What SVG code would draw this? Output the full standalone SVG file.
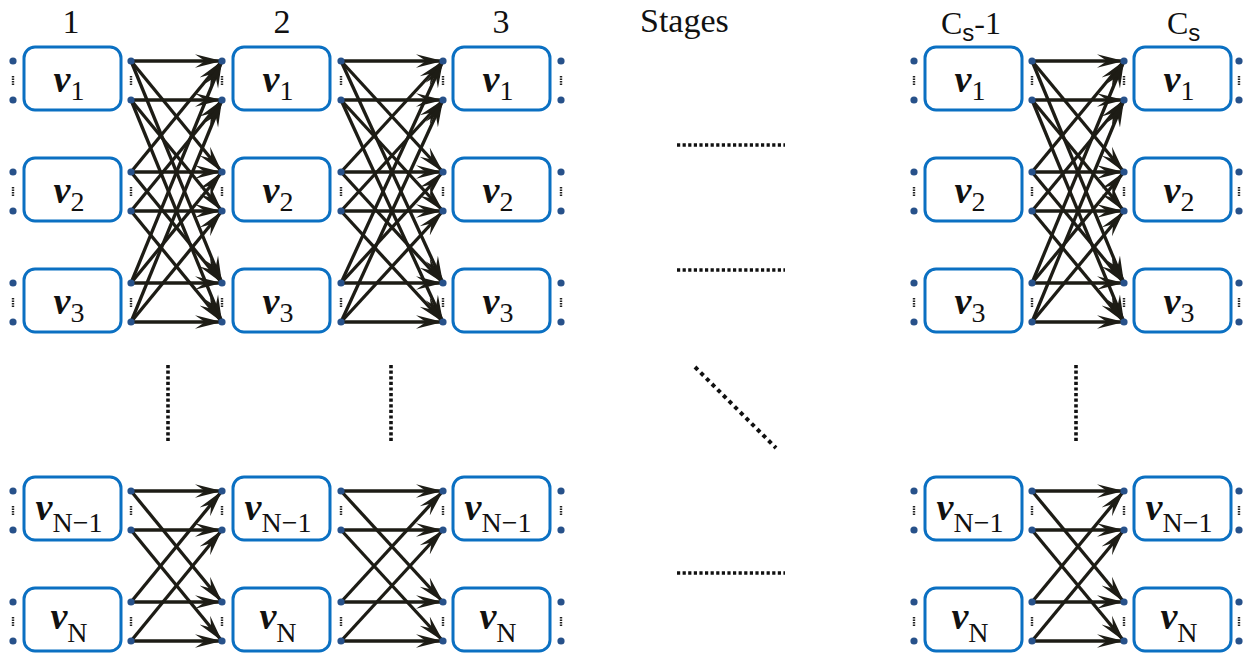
<svg xmlns="http://www.w3.org/2000/svg" width="1251" height="655" viewBox="0 0 1251 655">
  <defs>
    <marker id="ah" markerUnits="userSpaceOnUse" markerWidth="30" markerHeight="16" viewBox="0 0 30 16" refX="27" refY="8" orient="auto">
      <path d="M0,1.2 L27,8 L0,14.8 L10,8 Z" fill="#1d1c15"/>
    </marker>
    <style>
      .box { fill: #ffffff; stroke: #0b70c2; stroke-width: 3; }
      .dot { fill: #27518a; }
      .tick { stroke: #222222; stroke-width: 2.4; stroke-dasharray: 1.6 0.9; }
      .ln { stroke: #1d1c15; stroke-width: 3.3; fill: none; marker-end: url(#ah); }
      .sep { stroke: #111111; stroke-width: 3.6; stroke-dasharray: 3.2 2.4; fill: none; }
      .sepd { stroke: #111111; stroke-width: 4; stroke-dasharray: 4 4; fill: none; }
      .nu { font-family: "Liberation Serif", serif; font-weight: bold; font-style: italic; font-size: 38px; fill: #111111; }
      .sub { font-family: "Liberation Serif", serif; font-weight: normal; font-style: normal; font-size: 28px; }
      .hdr { font-family: "Liberation Serif", serif; font-size: 34px; fill: #111111; }
      .stg { font-family: "Liberation Serif", serif; font-size: 34px; fill: #111111; }
      .cs { font-family: "Liberation Serif", serif; font-size: 32px; fill: #111111; }
      .csub { font-family: "Liberation Sans", sans-serif; font-size: 24px; }
    </style>
  </defs>

  <!-- stage headings -->
  <g id="headings">
    <text class="hdr" x="71" y="33" text-anchor="middle">1</text>
    <text class="hdr" x="282" y="33" text-anchor="middle">2</text>
    <text class="hdr" x="501" y="33" text-anchor="middle">3</text>
    <text class="stg" x="640" y="32">Stages</text>
    <text class="cs" x="941" y="34">C<tspan class="csub" dy="7">s</tspan><tspan dy="-7">-1</tspan></text>
    <text class="cs" x="1167" y="34">C<tspan class="csub" dy="7">s</tspan></text>
  </g>

  <!-- connectors between consecutive stages -->
  <g id="connectors">
    <!-- stage 1 -> stage 2 -->
    <line class="ln" x1="131" y1="61" x2="222" y2="61"/>
    <line class="ln" x1="131" y1="61" x2="222" y2="172"/>
    <line class="ln" x1="131" y1="61" x2="222" y2="283"/>
    <line class="ln" x1="131" y1="172" x2="222" y2="61"/>
    <line class="ln" x1="131" y1="172" x2="222" y2="172"/>
    <line class="ln" x1="131" y1="172" x2="222" y2="283"/>
    <line class="ln" x1="131" y1="283" x2="222" y2="61"/>
    <line class="ln" x1="131" y1="283" x2="222" y2="172"/>
    <line class="ln" x1="131" y1="283" x2="222" y2="283"/>
    <line class="ln" x1="131" y1="100" x2="222" y2="100"/>
    <line class="ln" x1="131" y1="100" x2="222" y2="211"/>
    <line class="ln" x1="131" y1="100" x2="222" y2="322"/>
    <line class="ln" x1="131" y1="211" x2="222" y2="100"/>
    <line class="ln" x1="131" y1="211" x2="222" y2="211"/>
    <line class="ln" x1="131" y1="211" x2="222" y2="322"/>
    <line class="ln" x1="131" y1="322" x2="222" y2="100"/>
    <line class="ln" x1="131" y1="322" x2="222" y2="211"/>
    <line class="ln" x1="131" y1="322" x2="222" y2="322"/>
    <line class="ln" x1="131" y1="491" x2="222" y2="491"/>
    <line class="ln" x1="131" y1="491" x2="222" y2="602"/>
    <line class="ln" x1="131" y1="602" x2="222" y2="491"/>
    <line class="ln" x1="131" y1="602" x2="222" y2="602"/>
    <line class="ln" x1="131" y1="530" x2="222" y2="530"/>
    <line class="ln" x1="131" y1="530" x2="222" y2="641"/>
    <line class="ln" x1="131" y1="641" x2="222" y2="530"/>
    <line class="ln" x1="131" y1="641" x2="222" y2="641"/>

    <!-- stage 2 -> stage 3 -->
    <line class="ln" x1="341" y1="61" x2="443" y2="61"/>
    <line class="ln" x1="341" y1="61" x2="443" y2="172"/>
    <line class="ln" x1="341" y1="61" x2="443" y2="283"/>
    <line class="ln" x1="341" y1="172" x2="443" y2="61"/>
    <line class="ln" x1="341" y1="172" x2="443" y2="172"/>
    <line class="ln" x1="341" y1="172" x2="443" y2="283"/>
    <line class="ln" x1="341" y1="283" x2="443" y2="61"/>
    <line class="ln" x1="341" y1="283" x2="443" y2="172"/>
    <line class="ln" x1="341" y1="283" x2="443" y2="283"/>
    <line class="ln" x1="341" y1="100" x2="443" y2="100"/>
    <line class="ln" x1="341" y1="100" x2="443" y2="211"/>
    <line class="ln" x1="341" y1="100" x2="443" y2="322"/>
    <line class="ln" x1="341" y1="211" x2="443" y2="100"/>
    <line class="ln" x1="341" y1="211" x2="443" y2="211"/>
    <line class="ln" x1="341" y1="211" x2="443" y2="322"/>
    <line class="ln" x1="341" y1="322" x2="443" y2="100"/>
    <line class="ln" x1="341" y1="322" x2="443" y2="211"/>
    <line class="ln" x1="341" y1="322" x2="443" y2="322"/>
    <line class="ln" x1="341" y1="491" x2="443" y2="491"/>
    <line class="ln" x1="341" y1="491" x2="443" y2="602"/>
    <line class="ln" x1="341" y1="602" x2="443" y2="491"/>
    <line class="ln" x1="341" y1="602" x2="443" y2="602"/>
    <line class="ln" x1="341" y1="530" x2="443" y2="530"/>
    <line class="ln" x1="341" y1="530" x2="443" y2="641"/>
    <line class="ln" x1="341" y1="641" x2="443" y2="530"/>
    <line class="ln" x1="341" y1="641" x2="443" y2="641"/>

    <!-- stage Cs-1 -> stage Cs -->
    <line class="ln" x1="1032" y1="61" x2="1124" y2="61"/>
    <line class="ln" x1="1032" y1="61" x2="1124" y2="172"/>
    <line class="ln" x1="1032" y1="61" x2="1124" y2="283"/>
    <line class="ln" x1="1032" y1="172" x2="1124" y2="61"/>
    <line class="ln" x1="1032" y1="172" x2="1124" y2="172"/>
    <line class="ln" x1="1032" y1="172" x2="1124" y2="283"/>
    <line class="ln" x1="1032" y1="283" x2="1124" y2="61"/>
    <line class="ln" x1="1032" y1="283" x2="1124" y2="172"/>
    <line class="ln" x1="1032" y1="283" x2="1124" y2="283"/>
    <line class="ln" x1="1032" y1="100" x2="1124" y2="100"/>
    <line class="ln" x1="1032" y1="100" x2="1124" y2="211"/>
    <line class="ln" x1="1032" y1="100" x2="1124" y2="322"/>
    <line class="ln" x1="1032" y1="211" x2="1124" y2="100"/>
    <line class="ln" x1="1032" y1="211" x2="1124" y2="211"/>
    <line class="ln" x1="1032" y1="211" x2="1124" y2="322"/>
    <line class="ln" x1="1032" y1="322" x2="1124" y2="100"/>
    <line class="ln" x1="1032" y1="322" x2="1124" y2="211"/>
    <line class="ln" x1="1032" y1="322" x2="1124" y2="322"/>
    <line class="ln" x1="1032" y1="491" x2="1124" y2="491"/>
    <line class="ln" x1="1032" y1="491" x2="1124" y2="602"/>
    <line class="ln" x1="1032" y1="602" x2="1124" y2="491"/>
    <line class="ln" x1="1032" y1="602" x2="1124" y2="602"/>
    <line class="ln" x1="1032" y1="530" x2="1124" y2="530"/>
    <line class="ln" x1="1032" y1="530" x2="1124" y2="641"/>
    <line class="ln" x1="1032" y1="641" x2="1124" y2="530"/>
    <line class="ln" x1="1032" y1="641" x2="1124" y2="641"/>
  </g>

  <!-- ellipsis marks for omitted stages / nodes -->
  <g id="ellipses">
    <line class="sep" x1="677" y1="145" x2="785" y2="145"/>
    <line class="sep" x1="677" y1="270" x2="785" y2="270"/>
    <line class="sep" x1="677" y1="573" x2="785" y2="573"/>
    <line class="sep" x1="168" y1="365" x2="168" y2="441"/>
    <line class="sep" x1="391" y1="365" x2="391" y2="441"/>
    <line class="sep" x1="1076" y1="365" x2="1076" y2="441"/>
    <line class="sepd" x1="695" y1="367" x2="776" y2="448"/>
  </g>

  <!-- ===== stage 1 ===== -->
  <g id="s1-v1">
    <rect class="box" x="24" y="47" width="97" height="63" rx="11"/>
    <text class="nu" x="69" y="92" text-anchor="middle">ν<tspan class="sub" dy="8">1</tspan></text>
    <circle class="dot" cx="13" cy="61" r="3.6"/><circle class="dot" cx="13" cy="100" r="3.6"/>
    <circle class="dot" cx="131" cy="61" r="3.6"/><circle class="dot" cx="131" cy="100" r="3.6"/>
    <line class="tick" x1="13" y1="76" x2="13" y2="85"/><line class="tick" x1="131" y1="76" x2="131" y2="85"/>
  </g>
  <g id="s1-v2">
    <rect class="box" x="24" y="158" width="97" height="63" rx="11"/>
    <text class="nu" x="69" y="203" text-anchor="middle">ν<tspan class="sub" dy="8">2</tspan></text>
    <circle class="dot" cx="13" cy="172" r="3.6"/><circle class="dot" cx="13" cy="211" r="3.6"/>
    <circle class="dot" cx="131" cy="172" r="3.6"/><circle class="dot" cx="131" cy="211" r="3.6"/>
    <line class="tick" x1="13" y1="187" x2="13" y2="196"/><line class="tick" x1="131" y1="187" x2="131" y2="196"/>
  </g>
  <g id="s1-v3">
    <rect class="box" x="24" y="269" width="97" height="63" rx="11"/>
    <text class="nu" x="69" y="314" text-anchor="middle">ν<tspan class="sub" dy="8">3</tspan></text>
    <circle class="dot" cx="13" cy="283" r="3.6"/><circle class="dot" cx="13" cy="322" r="3.6"/>
    <circle class="dot" cx="131" cy="283" r="3.6"/><circle class="dot" cx="131" cy="322" r="3.6"/>
    <line class="tick" x1="13" y1="298" x2="13" y2="307"/><line class="tick" x1="131" y1="298" x2="131" y2="307"/>
  </g>
  <g id="s1-vN-1">
    <rect class="box" x="24" y="477" width="97" height="63" rx="11"/>
    <text class="nu" x="69" y="520" text-anchor="middle">ν<tspan class="sub" dy="12">N−1</tspan></text>
    <circle class="dot" cx="13" cy="491" r="3.6"/><circle class="dot" cx="13" cy="530" r="3.6"/>
    <circle class="dot" cx="131" cy="491" r="3.6"/><circle class="dot" cx="131" cy="530" r="3.6"/>
    <line class="tick" x1="13" y1="506" x2="13" y2="515"/><line class="tick" x1="131" y1="506" x2="131" y2="515"/>
  </g>
  <g id="s1-vN">
    <rect class="box" x="24" y="588" width="97" height="63" rx="11"/>
    <text class="nu" x="69" y="629" text-anchor="middle">ν<tspan class="sub" dy="13">N</tspan></text>
    <circle class="dot" cx="13" cy="602" r="3.6"/><circle class="dot" cx="13" cy="641" r="3.6"/>
    <circle class="dot" cx="131" cy="602" r="3.6"/><circle class="dot" cx="131" cy="641" r="3.6"/>
    <line class="tick" x1="13" y1="617" x2="13" y2="626"/><line class="tick" x1="131" y1="617" x2="131" y2="626"/>
  </g>

  <!-- ===== stage 2 ===== -->
  <g id="s2-v1">
    <rect class="box" x="233" y="47" width="97" height="63" rx="11"/>
    <text class="nu" x="278" y="92" text-anchor="middle">ν<tspan class="sub" dy="8">1</tspan></text>
    <circle class="dot" cx="222" cy="61" r="3.6"/><circle class="dot" cx="222" cy="100" r="3.6"/>
    <circle class="dot" cx="341" cy="61" r="3.6"/><circle class="dot" cx="341" cy="100" r="3.6"/>
    <line class="tick" x1="222" y1="76" x2="222" y2="85"/><line class="tick" x1="341" y1="76" x2="341" y2="85"/>
  </g>
  <g id="s2-v2">
    <rect class="box" x="233" y="158" width="97" height="63" rx="11"/>
    <text class="nu" x="278" y="203" text-anchor="middle">ν<tspan class="sub" dy="8">2</tspan></text>
    <circle class="dot" cx="222" cy="172" r="3.6"/><circle class="dot" cx="222" cy="211" r="3.6"/>
    <circle class="dot" cx="341" cy="172" r="3.6"/><circle class="dot" cx="341" cy="211" r="3.6"/>
    <line class="tick" x1="222" y1="187" x2="222" y2="196"/><line class="tick" x1="341" y1="187" x2="341" y2="196"/>
  </g>
  <g id="s2-v3">
    <rect class="box" x="233" y="269" width="97" height="63" rx="11"/>
    <text class="nu" x="278" y="314" text-anchor="middle">ν<tspan class="sub" dy="8">3</tspan></text>
    <circle class="dot" cx="222" cy="283" r="3.6"/><circle class="dot" cx="222" cy="322" r="3.6"/>
    <circle class="dot" cx="341" cy="283" r="3.6"/><circle class="dot" cx="341" cy="322" r="3.6"/>
    <line class="tick" x1="222" y1="298" x2="222" y2="307"/><line class="tick" x1="341" y1="298" x2="341" y2="307"/>
  </g>
  <g id="s2-vN-1">
    <rect class="box" x="233" y="477" width="97" height="63" rx="11"/>
    <text class="nu" x="278" y="520" text-anchor="middle">ν<tspan class="sub" dy="12">N−1</tspan></text>
    <circle class="dot" cx="222" cy="491" r="3.6"/><circle class="dot" cx="222" cy="530" r="3.6"/>
    <circle class="dot" cx="341" cy="491" r="3.6"/><circle class="dot" cx="341" cy="530" r="3.6"/>
    <line class="tick" x1="222" y1="506" x2="222" y2="515"/><line class="tick" x1="341" y1="506" x2="341" y2="515"/>
  </g>
  <g id="s2-vN">
    <rect class="box" x="233" y="588" width="97" height="63" rx="11"/>
    <text class="nu" x="278" y="629" text-anchor="middle">ν<tspan class="sub" dy="13">N</tspan></text>
    <circle class="dot" cx="222" cy="602" r="3.6"/><circle class="dot" cx="222" cy="641" r="3.6"/>
    <circle class="dot" cx="341" cy="602" r="3.6"/><circle class="dot" cx="341" cy="641" r="3.6"/>
    <line class="tick" x1="222" y1="617" x2="222" y2="626"/><line class="tick" x1="341" y1="617" x2="341" y2="626"/>
  </g>

  <!-- ===== stage 3 ===== -->
  <g id="s3-v1">
    <rect class="box" x="453" y="47" width="97" height="63" rx="11"/>
    <text class="nu" x="498" y="92" text-anchor="middle">ν<tspan class="sub" dy="8">1</tspan></text>
    <circle class="dot" cx="443" cy="61" r="3.6"/><circle class="dot" cx="443" cy="100" r="3.6"/>
    <circle class="dot" cx="561" cy="61" r="3.6"/><circle class="dot" cx="561" cy="100" r="3.6"/>
    <line class="tick" x1="443" y1="76" x2="443" y2="85"/><line class="tick" x1="561" y1="76" x2="561" y2="85"/>
  </g>
  <g id="s3-v2">
    <rect class="box" x="453" y="158" width="97" height="63" rx="11"/>
    <text class="nu" x="498" y="203" text-anchor="middle">ν<tspan class="sub" dy="8">2</tspan></text>
    <circle class="dot" cx="443" cy="172" r="3.6"/><circle class="dot" cx="443" cy="211" r="3.6"/>
    <circle class="dot" cx="561" cy="172" r="3.6"/><circle class="dot" cx="561" cy="211" r="3.6"/>
    <line class="tick" x1="443" y1="187" x2="443" y2="196"/><line class="tick" x1="561" y1="187" x2="561" y2="196"/>
  </g>
  <g id="s3-v3">
    <rect class="box" x="453" y="269" width="97" height="63" rx="11"/>
    <text class="nu" x="498" y="314" text-anchor="middle">ν<tspan class="sub" dy="8">3</tspan></text>
    <circle class="dot" cx="443" cy="283" r="3.6"/><circle class="dot" cx="443" cy="322" r="3.6"/>
    <circle class="dot" cx="561" cy="283" r="3.6"/><circle class="dot" cx="561" cy="322" r="3.6"/>
    <line class="tick" x1="443" y1="298" x2="443" y2="307"/><line class="tick" x1="561" y1="298" x2="561" y2="307"/>
  </g>
  <g id="s3-vN-1">
    <rect class="box" x="453" y="477" width="97" height="63" rx="11"/>
    <text class="nu" x="498" y="520" text-anchor="middle">ν<tspan class="sub" dy="12">N−1</tspan></text>
    <circle class="dot" cx="443" cy="491" r="3.6"/><circle class="dot" cx="443" cy="530" r="3.6"/>
    <circle class="dot" cx="561" cy="491" r="3.6"/><circle class="dot" cx="561" cy="530" r="3.6"/>
    <line class="tick" x1="443" y1="506" x2="443" y2="515"/><line class="tick" x1="561" y1="506" x2="561" y2="515"/>
  </g>
  <g id="s3-vN">
    <rect class="box" x="453" y="588" width="97" height="63" rx="11"/>
    <text class="nu" x="498" y="629" text-anchor="middle">ν<tspan class="sub" dy="13">N</tspan></text>
    <circle class="dot" cx="443" cy="602" r="3.6"/><circle class="dot" cx="443" cy="641" r="3.6"/>
    <circle class="dot" cx="561" cy="602" r="3.6"/><circle class="dot" cx="561" cy="641" r="3.6"/>
    <line class="tick" x1="443" y1="617" x2="443" y2="626"/><line class="tick" x1="561" y1="617" x2="561" y2="626"/>
  </g>

  <!-- ===== stage Cs-1 ===== -->
  <g id="sCm1-v1">
    <rect class="box" x="925" y="47" width="97" height="63" rx="11"/>
    <text class="nu" x="970" y="92" text-anchor="middle">ν<tspan class="sub" dy="8">1</tspan></text>
    <circle class="dot" cx="914" cy="61" r="3.6"/><circle class="dot" cx="914" cy="100" r="3.6"/>
    <circle class="dot" cx="1032" cy="61" r="3.6"/><circle class="dot" cx="1032" cy="100" r="3.6"/>
    <line class="tick" x1="914" y1="76" x2="914" y2="85"/><line class="tick" x1="1032" y1="76" x2="1032" y2="85"/>
  </g>
  <g id="sCm1-v2">
    <rect class="box" x="925" y="158" width="97" height="63" rx="11"/>
    <text class="nu" x="970" y="203" text-anchor="middle">ν<tspan class="sub" dy="8">2</tspan></text>
    <circle class="dot" cx="914" cy="172" r="3.6"/><circle class="dot" cx="914" cy="211" r="3.6"/>
    <circle class="dot" cx="1032" cy="172" r="3.6"/><circle class="dot" cx="1032" cy="211" r="3.6"/>
    <line class="tick" x1="914" y1="187" x2="914" y2="196"/><line class="tick" x1="1032" y1="187" x2="1032" y2="196"/>
  </g>
  <g id="sCm1-v3">
    <rect class="box" x="925" y="269" width="97" height="63" rx="11"/>
    <text class="nu" x="970" y="314" text-anchor="middle">ν<tspan class="sub" dy="8">3</tspan></text>
    <circle class="dot" cx="914" cy="283" r="3.6"/><circle class="dot" cx="914" cy="322" r="3.6"/>
    <circle class="dot" cx="1032" cy="283" r="3.6"/><circle class="dot" cx="1032" cy="322" r="3.6"/>
    <line class="tick" x1="914" y1="298" x2="914" y2="307"/><line class="tick" x1="1032" y1="298" x2="1032" y2="307"/>
  </g>
  <g id="sCm1-vN-1">
    <rect class="box" x="925" y="477" width="97" height="63" rx="11"/>
    <text class="nu" x="970" y="520" text-anchor="middle">ν<tspan class="sub" dy="12">N−1</tspan></text>
    <circle class="dot" cx="914" cy="491" r="3.6"/><circle class="dot" cx="914" cy="530" r="3.6"/>
    <circle class="dot" cx="1032" cy="491" r="3.6"/><circle class="dot" cx="1032" cy="530" r="3.6"/>
    <line class="tick" x1="914" y1="506" x2="914" y2="515"/><line class="tick" x1="1032" y1="506" x2="1032" y2="515"/>
  </g>
  <g id="sCm1-vN">
    <rect class="box" x="925" y="588" width="97" height="63" rx="11"/>
    <text class="nu" x="970" y="629" text-anchor="middle">ν<tspan class="sub" dy="13">N</tspan></text>
    <circle class="dot" cx="914" cy="602" r="3.6"/><circle class="dot" cx="914" cy="641" r="3.6"/>
    <circle class="dot" cx="1032" cy="602" r="3.6"/><circle class="dot" cx="1032" cy="641" r="3.6"/>
    <line class="tick" x1="914" y1="617" x2="914" y2="626"/><line class="tick" x1="1032" y1="617" x2="1032" y2="626"/>
  </g>

  <!-- ===== stage Cs ===== -->
  <g id="sC-v1">
    <rect class="box" x="1134" y="47" width="97" height="63" rx="11"/>
    <text class="nu" x="1179" y="92" text-anchor="middle">ν<tspan class="sub" dy="8">1</tspan></text>
    <circle class="dot" cx="1124" cy="61" r="3.6"/><circle class="dot" cx="1124" cy="100" r="3.6"/>
    <circle class="dot" cx="1239" cy="61" r="3.6"/><circle class="dot" cx="1239" cy="100" r="3.6"/>
    <line class="tick" x1="1124" y1="76" x2="1124" y2="85"/><line class="tick" x1="1239" y1="76" x2="1239" y2="85"/>
  </g>
  <g id="sC-v2">
    <rect class="box" x="1134" y="158" width="97" height="63" rx="11"/>
    <text class="nu" x="1179" y="203" text-anchor="middle">ν<tspan class="sub" dy="8">2</tspan></text>
    <circle class="dot" cx="1124" cy="172" r="3.6"/><circle class="dot" cx="1124" cy="211" r="3.6"/>
    <circle class="dot" cx="1239" cy="172" r="3.6"/><circle class="dot" cx="1239" cy="211" r="3.6"/>
    <line class="tick" x1="1124" y1="187" x2="1124" y2="196"/><line class="tick" x1="1239" y1="187" x2="1239" y2="196"/>
  </g>
  <g id="sC-v3">
    <rect class="box" x="1134" y="269" width="97" height="63" rx="11"/>
    <text class="nu" x="1179" y="314" text-anchor="middle">ν<tspan class="sub" dy="8">3</tspan></text>
    <circle class="dot" cx="1124" cy="283" r="3.6"/><circle class="dot" cx="1124" cy="322" r="3.6"/>
    <circle class="dot" cx="1239" cy="283" r="3.6"/><circle class="dot" cx="1239" cy="322" r="3.6"/>
    <line class="tick" x1="1124" y1="298" x2="1124" y2="307"/><line class="tick" x1="1239" y1="298" x2="1239" y2="307"/>
  </g>
  <g id="sC-vN-1">
    <rect class="box" x="1134" y="477" width="97" height="63" rx="11"/>
    <text class="nu" x="1179" y="520" text-anchor="middle">ν<tspan class="sub" dy="12">N−1</tspan></text>
    <circle class="dot" cx="1124" cy="491" r="3.6"/><circle class="dot" cx="1124" cy="530" r="3.6"/>
    <circle class="dot" cx="1239" cy="491" r="3.6"/><circle class="dot" cx="1239" cy="530" r="3.6"/>
    <line class="tick" x1="1124" y1="506" x2="1124" y2="515"/><line class="tick" x1="1239" y1="506" x2="1239" y2="515"/>
  </g>
  <g id="sC-vN">
    <rect class="box" x="1134" y="588" width="97" height="63" rx="11"/>
    <text class="nu" x="1179" y="629" text-anchor="middle">ν<tspan class="sub" dy="13">N</tspan></text>
    <circle class="dot" cx="1124" cy="602" r="3.6"/><circle class="dot" cx="1124" cy="641" r="3.6"/>
    <circle class="dot" cx="1239" cy="602" r="3.6"/><circle class="dot" cx="1239" cy="641" r="3.6"/>
    <line class="tick" x1="1124" y1="617" x2="1124" y2="626"/><line class="tick" x1="1239" y1="617" x2="1239" y2="626"/>
  </g>
</svg>
